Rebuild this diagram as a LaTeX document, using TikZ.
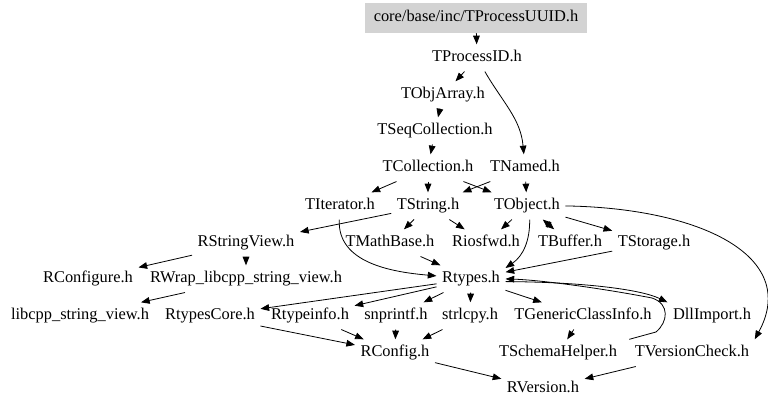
\documentclass[tikz,border=0pt]{standalone}
\usepackage{fontspec}
\setmainfont{Liberation Serif}
\usepackage{tikz}
\usetikzlibrary{arrows.meta}
\definecolor{rootgray}{RGB}{211,211,211}

\begin{document}
\begin{tikzpicture}[
  x=0.75pt, y=0.75pt,
  >={Triangle[length=6.5pt,width=5pt]},
  label text/.style={inner xsep=4pt, inner ysep=0pt, text height=8.6pt, text depth=2.6pt,
                     font=\fontsize{12.3}{14}\selectfont},
  file/.style={label text, minimum height=20pt, yshift=-2.2pt},
  rootfile/.style={label text, fill=rootgray, minimum width=166.5pt, minimum height=22.5pt},
  dep/.style={draw, ->, line width=0.6pt}
]
  \useasboundingbox (0,0) rectangle (768,406);

  \node[rootfile] (root) at (476,388) {core/base/inc/TProcessUUID.h};
  \node[file] (tprocessid) at (477,351) {TProcessID.h};
  \node[file] (tobjarray) at (443,314) {TObjArray.h};
  \node[file] (tseqcollection) at (435,278) {TSeqCollection.h};
  \node[file] (tcollection) at (428,241) {TCollection.h};
  \node[file] (tnamed) at (525,241) {TNamed.h};
  \node[file] (titerator) at (340,203) {TIterator.h};
  \node[file] (tstring) at (428,203) {TString.h};
  \node[file] (tobject) at (527,203) {TObject.h};
  \node[file] (rstringview) at (246,166) {RStringView.h};
  \node[file] (tmathbase) at (390,166) {TMathBase.h};
  \node[file] (riosfwd) at (486,166) {Riosfwd.h};
  \node[file] (tbuffer) at (570,166) {TBuffer.h};
  \node[file] (tstorage) at (654,166) {TStorage.h};
  \node[file] (rconfigure) at (88,130) {RConfigure.h};
  \node[file] (rwrap) at (246,130) {RWrap\_libcpp\_string\_view.h};
  \node[file] (rtypes) at (471,130) {Rtypes.h};
  \node[file] (libcpp) at (80,93) {libcpp\_string\_view.h};
  \node[file] (rtypescore) at (210,93) {RtypesCore.h};
  \node[file] (rtypeinfo) at (310,93) {Rtypeinfo.h};
  \node[file] (snprintf) at (396,93) {snprintf.h};
  \node[file] (strlcpy) at (470,93) {strlcpy.h};
  \node[file] (tgenericclassinfo) at (583,93) {TGenericClassInfo.h};
  \node[file] (dllimport) at (712,93) {DllImport.h};
  \node[file] (rconfig) at (395,56) {RConfig.h};
  \node[file] (tschemahelper) at (558,56) {TSchemaHelper.h};
  \node[file] (tversioncheck) at (692,56) {TVersionCheck.h};
  \node[file] (rversion) at (543,20) {RVersion.h};

  \draw[dep] (root) -- (tprocessid);
  \draw[dep] (tprocessid) -- (tobjarray);
  \draw[dep] (tprocessid) to[out=-60,in=95] (tnamed);
  \draw[dep] (tobjarray) -- (tseqcollection);
  \draw[dep] (tseqcollection) -- (tcollection);
  \draw[dep] (tcollection) -- (titerator);
  \draw[dep] (tcollection) -- (tstring);
  \draw[dep] (tcollection) -- (tobject);
  \draw[dep] (tnamed) -- (tstring);
  \draw[dep] (tnamed) -- (tobject);
  \draw[dep] (titerator) to[out=-93,in=175] (rtypes);
  \draw[dep] (tstring) -- (rstringview);
  \draw[dep] (tstring) -- (tmathbase);
  \draw[dep] (tstring) -- (riosfwd);
  \draw[dep] (tobject) -- (riosfwd);
  \draw[dep] ([xshift=2pt]tobject.south) .. controls (530,165) and (523,150) .. ([yshift=-2pt]rtypes.north east);
  \draw[dep, <->] (tobject) -- (tbuffer);
  \draw[dep] (tobject) -- (tstorage);
  \draw[dep] (tobject.east) .. controls (700,198) and (800,150) .. (tversioncheck.north east);
  \draw[dep] (tmathbase) -- (rtypes);
  \draw[dep] (tstorage) -- (rtypes);
  \draw[dep] (rstringview) -- (rconfigure);
  \draw[dep] (rstringview) -- (rwrap);
  \draw[dep] (rwrap) -- (libcpp);
  \draw[dep] (rtypes) -- (rtypescore);
  \draw[dep] (rtypes) -- (rtypeinfo);
  \draw[dep] (rtypes) -- (snprintf);
  \draw[dep] (rtypes) -- (strlcpy);
  \draw[dep] (rtypes) -- (tgenericclassinfo);
  \draw[dep] ([yshift=-2pt]rtypes.east) .. controls (580,124) and (640,117) .. (dllimport.north west);
  \draw[dep] (tversioncheck.north west) -- (656,74) .. controls (668,84) and (670,102) .. (652,108)
    .. controls (600,118) and (540,126) .. (rtypes.east);
  \draw[dep] (rtypescore) -- (rconfig);
  \draw[dep] (rtypeinfo) -- (rconfig);
  \draw[dep] (snprintf) -- (rconfig);
  \draw[dep] (strlcpy) -- (rconfig);
  \draw[dep] (tgenericclassinfo) -- (tschemahelper);
  \draw[dep] (rconfig) -- (rversion);
  \draw[dep] (tversioncheck) -- (rversion);
\end{tikzpicture}
\end{document}
